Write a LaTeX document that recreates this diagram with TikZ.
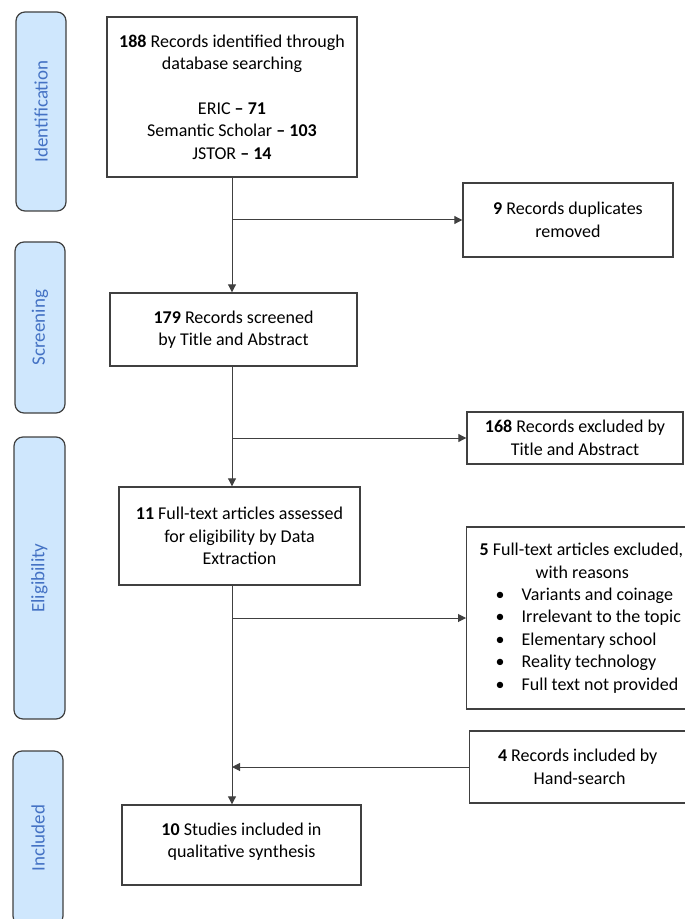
\documentclass[tikz,border=0pt]{standalone}
\usepackage{fontspec}
\setmainfont{Carlito}
\usetikzlibrary{positioning,calc,arrows.meta}
\definecolor{StageFill}{RGB}{207,231,253}
\definecolor{StageText}{RGB}{68,114,196}
\definecolor{LineGray}{RGB}{64,64,64}
\tikzset{
  box/.style={draw=LineGray,line width=0.7pt,fill=white,align=center,inner sep=0pt,
    font=\fontsize{9}{11.2}\selectfont},
  stage/.style={draw=LineGray,line width=0.6pt,fill=StageFill,rounded corners=4.5pt,
    rotate=90,inner sep=0pt,text=StageText,font=\fontsize{9.5}{11}\selectfont},
  flow/.style={draw=LineGray,line width=0.5pt,-{Triangle[length=4pt,width=4pt]}},
}

\begin{document}
\begin{tikzpicture}[x=0.5pt,y=-0.5pt]
\useasboundingbox (0,0) rectangle (684,919);
% stages on the left
\node[stage,minimum width=99.5pt,minimum height=25pt] (sIdent) at (41,111.5) {Identification};
\node[stage,minimum width=85.5pt,minimum height=25pt] (sScreen) at (40,327.5) {Screening};
\node[stage,minimum width=141pt,minimum height=25.5pt] (sElig) at (39.5,578) {Eligibility};
\node[stage,minimum width=87pt,minimum height=25pt] (sIncl) at (38,838) {Included};
% main column
\node[box,minimum width=125pt,minimum height=80pt] (ident) at (232,97)
  {\textbf{188} Records identified through\\ database searching\\[11.2pt]
   ERIC \textbf{-- 71}\\ Semantic Scholar \textbf{-- 103}\\ JSTOR \textbf{-- 14}};
\node[box,minimum width=123.5pt,minimum height=36.5pt] (screen) at (233.5,329.5)
  {\textbf{179} Records screened\\ by Title and Abstract};
\node[box,minimum width=120.5pt,minimum height=49pt] (elig) at (239.5,536)
  {\textbf{11} Full-text articles assessed\\ for eligibility by Data\\ Extraction};
\node[box,minimum width=119.5pt,minimum height=40pt] (incl) at (241.5,845)
  {\textbf{10} Studies included in\\ qualitative synthesis\\[-6.7pt]};
% side boxes
\node[box,minimum width=105pt,minimum height=37pt] (dup) at (568,220)
  {\textbf{9} Records duplicates\\ removed};
\node[box,minimum width=108pt,minimum height=26pt] (excl) at (575,438)
  {\textbf{168} Records excluded by\\ Title and Abstract};
\node[box,anchor=west,align=left,inner xsep=6.5pt,minimum height=91pt] (reasons) at (466,618)
  {\textbf{5} Full-text articles excluded,\\
   \hspace*{28pt}with reasons\\
   \hspace*{8pt}\makebox[13pt][l]{\textbullet}Variants and coinage\\
   \hspace*{8pt}\makebox[13pt][l]{\textbullet}Irrelevant to the topic\\
   \hspace*{8pt}\makebox[13pt][l]{\textbullet}Elementary school\\
   \hspace*{8pt}\makebox[13pt][l]{\textbullet}Reality technology\\
   \hspace*{8pt}\makebox[13pt][l]{\textbullet}Full text not provided};
\node[box,anchor=west,minimum width=110pt,minimum height=36pt] (hand) at (469,767)
  {\hspace*{-2pt}\textbf{4} Records included by\\ Hand-search};
% connectors
\coordinate (trunk) at (232,0);
\draw[flow] (trunk |- ident.south) -- (trunk |- screen.north);
\draw[flow] (trunk |- dup.west) -- (dup.west);
\draw[flow] (trunk |- screen.south) -- (trunk |- elig.north);
\draw[flow] (trunk |- excl.west) -- (excl.west);
\draw[flow] (trunk |- elig.south) -- (trunk |- incl.north);
\draw[flow] (trunk |- reasons.west) -- (reasons.west);
\draw[flow] (hand.west) -- (trunk |- hand.west);
\end{tikzpicture}
\end{document}
